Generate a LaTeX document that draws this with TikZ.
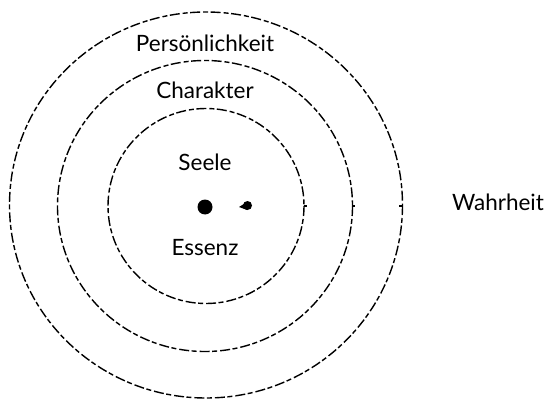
\documentclass[tikz,border=0pt]{standalone}
\usepackage{fontspec}
\setmainfont{Lato}
\usetikzlibrary{positioning}

\begin{document}
\begin{tikzpicture}[x=1pt,y=-1pt,font=\fontsize{22.5}{26}\selectfont,
  ring/.style={draw,line width=1.4pt,dash pattern=on 10pt off 3pt on 5pt off 2.5pt},
  lbl/.style={inner sep=1pt}]
  \useasboundingbox (0,0) rectangle (549,401);
  % ---------- rings
  \draw[ring] (206,205) ellipse [x radius=196.5,y radius=193];
  \draw[ring] (205,206) ellipse [x radius=147.5,y radius=145.5];
  \draw[ring] (206,206) ellipse [x radius=98,y radius=97.5];
  % small ticks on the right side
  \draw[line width=1.3pt] (304,206) -- +(3,0);
  \draw[line width=1.3pt] (352,206) -- +(3,0);
  \draw[line width=1.3pt] (402,206) -- +(-3,0);
  % ---------- centre
  \fill (205,207) circle [radius=7.5];
  \fill (247.5,205.5) ellipse [x radius=4.5,y radius=4.5];
  \fill (239,207) -- (247,202) -- (247,210) -- cycle;
  % ---------- labels
  \node[lbl] (pers) at (205,43) {Persönlichkeit};
  \node[lbl] (char) at (205,90) {Charakter};
  \node[lbl] (seele) at (205,162) {Seele};
  \node[lbl] (essenz) at (205,248) {Essenz};
  \node[lbl] (wahr) at (498,202) {Wahrheit};
\end{tikzpicture}
\end{document}
